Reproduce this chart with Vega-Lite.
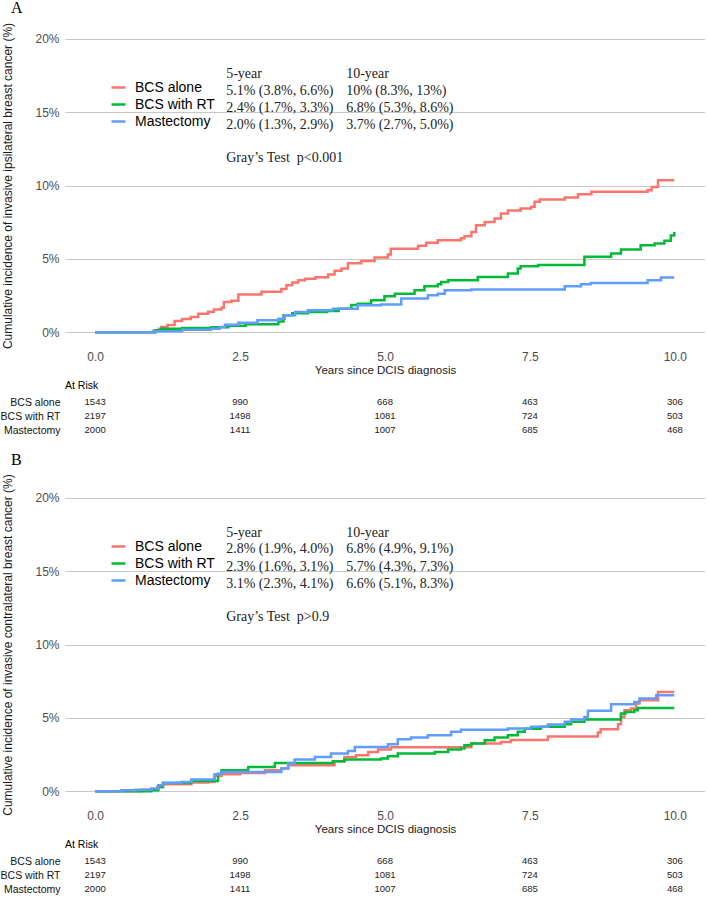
{
  "$schema": "https://vega.github.io/schema/vega-lite/v6.json",
  "background": "white",
  "padding": {"left": 0, "top": 0, "right": 0, "bottom": 0},
  "config": {
    "view": {"stroke": null},
    "font": "Liberation Sans",
    "title": {"color": "black", "fontWeight": "normal"},
    "axis": {"labelFont": "Liberation Sans", "titleFont": "Liberation Sans", "titleFontWeight": "normal"}
  },
  "resolve": {"scale": {"color": "independent"}, "legend": {"color": "independent"}},
  "datasets": {
    "curves": [
      {"panel": "A", "group": "BCS alone", "t": 0, "v": 0},
      {"panel": "A", "group": "BCS alone", "t": 1.0, "v": 0.1},
      {"panel": "A", "group": "BCS alone", "t": 1.1, "v": 0.25},
      {"panel": "A", "group": "BCS alone", "t": 1.14, "v": 0.36},
      {"panel": "A", "group": "BCS alone", "t": 1.25, "v": 0.5},
      {"panel": "A", "group": "BCS alone", "t": 1.37, "v": 0.77},
      {"panel": "A", "group": "BCS alone", "t": 1.5, "v": 0.9},
      {"panel": "A", "group": "BCS alone", "t": 1.65, "v": 1.05},
      {"panel": "A", "group": "BCS alone", "t": 1.78, "v": 1.27},
      {"panel": "A", "group": "BCS alone", "t": 1.95, "v": 1.4},
      {"panel": "A", "group": "BCS alone", "t": 2.05, "v": 1.55},
      {"panel": "A", "group": "BCS alone", "t": 2.18, "v": 1.68},
      {"panel": "A", "group": "BCS alone", "t": 2.22, "v": 2.07},
      {"panel": "A", "group": "BCS alone", "t": 2.35, "v": 2.15},
      {"panel": "A", "group": "BCS alone", "t": 2.47, "v": 2.57},
      {"panel": "A", "group": "BCS alone", "t": 2.87, "v": 2.77},
      {"panel": "A", "group": "BCS alone", "t": 3.21, "v": 2.95},
      {"panel": "A", "group": "BCS alone", "t": 3.3, "v": 3.2},
      {"panel": "A", "group": "BCS alone", "t": 3.4, "v": 3.4},
      {"panel": "A", "group": "BCS alone", "t": 3.5, "v": 3.55},
      {"panel": "A", "group": "BCS alone", "t": 3.62, "v": 3.65},
      {"panel": "A", "group": "BCS alone", "t": 3.8, "v": 3.75},
      {"panel": "A", "group": "BCS alone", "t": 4.02, "v": 3.93},
      {"panel": "A", "group": "BCS alone", "t": 4.13, "v": 4.2},
      {"panel": "A", "group": "BCS alone", "t": 4.25, "v": 4.34},
      {"panel": "A", "group": "BCS alone", "t": 4.36, "v": 4.7},
      {"panel": "A", "group": "BCS alone", "t": 4.59, "v": 4.85},
      {"panel": "A", "group": "BCS alone", "t": 4.82, "v": 5.1},
      {"panel": "A", "group": "BCS alone", "t": 5.05, "v": 5.3},
      {"panel": "A", "group": "BCS alone", "t": 5.1, "v": 5.7},
      {"panel": "A", "group": "BCS alone", "t": 5.57, "v": 5.9},
      {"panel": "A", "group": "BCS alone", "t": 5.71, "v": 6.1},
      {"panel": "A", "group": "BCS alone", "t": 5.91, "v": 6.27},
      {"panel": "A", "group": "BCS alone", "t": 6.31, "v": 6.4},
      {"panel": "A", "group": "BCS alone", "t": 6.37, "v": 6.55},
      {"panel": "A", "group": "BCS alone", "t": 6.49, "v": 6.84},
      {"panel": "A", "group": "BCS alone", "t": 6.57, "v": 7.3},
      {"panel": "A", "group": "BCS alone", "t": 6.72, "v": 7.52},
      {"panel": "A", "group": "BCS alone", "t": 6.89, "v": 7.75},
      {"panel": "A", "group": "BCS alone", "t": 7.0, "v": 8.1},
      {"panel": "A", "group": "BCS alone", "t": 7.12, "v": 8.3},
      {"panel": "A", "group": "BCS alone", "t": 7.34, "v": 8.43},
      {"panel": "A", "group": "BCS alone", "t": 7.52, "v": 8.55},
      {"panel": "A", "group": "BCS alone", "t": 7.58, "v": 8.9},
      {"panel": "A", "group": "BCS alone", "t": 7.67, "v": 9.05},
      {"panel": "A", "group": "BCS alone", "t": 8.1, "v": 9.18},
      {"panel": "A", "group": "BCS alone", "t": 8.33, "v": 9.4},
      {"panel": "A", "group": "BCS alone", "t": 8.56, "v": 9.57},
      {"panel": "A", "group": "BCS alone", "t": 9.53, "v": 9.68},
      {"panel": "A", "group": "BCS alone", "t": 9.6, "v": 9.9},
      {"panel": "A", "group": "BCS alone", "t": 9.71, "v": 10.36},
      {"panel": "A", "group": "BCS alone", "t": 9.99, "v": 10.36},

      {"panel": "A", "group": "BCS with RT", "t": 0, "v": 0},
      {"panel": "A", "group": "BCS with RT", "t": 1.04, "v": 0.14},
      {"panel": "A", "group": "BCS with RT", "t": 1.14, "v": 0.25},
      {"panel": "A", "group": "BCS with RT", "t": 1.5, "v": 0.3},
      {"panel": "A", "group": "BCS with RT", "t": 2.0, "v": 0.35},
      {"panel": "A", "group": "BCS with RT", "t": 2.3, "v": 0.45},
      {"panel": "A", "group": "BCS with RT", "t": 2.6, "v": 0.55},
      {"panel": "A", "group": "BCS with RT", "t": 3.16, "v": 0.73},
      {"panel": "A", "group": "BCS with RT", "t": 3.25, "v": 1.16},
      {"panel": "A", "group": "BCS with RT", "t": 3.4, "v": 1.3},
      {"panel": "A", "group": "BCS with RT", "t": 3.67, "v": 1.39},
      {"panel": "A", "group": "BCS with RT", "t": 4.0, "v": 1.45},
      {"panel": "A", "group": "BCS with RT", "t": 4.2, "v": 1.6},
      {"panel": "A", "group": "BCS with RT", "t": 4.42, "v": 1.86},
      {"panel": "A", "group": "BCS with RT", "t": 4.53, "v": 1.95},
      {"panel": "A", "group": "BCS with RT", "t": 4.76, "v": 2.18},
      {"panel": "A", "group": "BCS with RT", "t": 4.99, "v": 2.45},
      {"panel": "A", "group": "BCS with RT", "t": 5.17, "v": 2.63},
      {"panel": "A", "group": "BCS with RT", "t": 5.51, "v": 2.86},
      {"panel": "A", "group": "BCS with RT", "t": 5.68, "v": 3.14},
      {"panel": "A", "group": "BCS with RT", "t": 5.91, "v": 3.27},
      {"panel": "A", "group": "BCS with RT", "t": 5.97, "v": 3.43},
      {"panel": "A", "group": "BCS with RT", "t": 6.09, "v": 3.55},
      {"panel": "A", "group": "BCS with RT", "t": 6.6, "v": 3.77},
      {"panel": "A", "group": "BCS with RT", "t": 7.12, "v": 4.0},
      {"panel": "A", "group": "BCS with RT", "t": 7.29, "v": 4.34},
      {"panel": "A", "group": "BCS with RT", "t": 7.34, "v": 4.5},
      {"panel": "A", "group": "BCS with RT", "t": 7.64, "v": 4.59},
      {"panel": "A", "group": "BCS with RT", "t": 8.44, "v": 5.14},
      {"panel": "A", "group": "BCS with RT", "t": 8.9, "v": 5.37},
      {"panel": "A", "group": "BCS with RT", "t": 9.07, "v": 5.64},
      {"panel": "A", "group": "BCS with RT", "t": 9.41, "v": 5.93},
      {"panel": "A", "group": "BCS with RT", "t": 9.65, "v": 6.05},
      {"panel": "A", "group": "BCS with RT", "t": 9.82, "v": 6.23},
      {"panel": "A", "group": "BCS with RT", "t": 9.93, "v": 6.6},
      {"panel": "A", "group": "BCS with RT", "t": 9.99, "v": 6.84},

      {"panel": "A", "group": "Mastectomy", "t": 0, "v": 0},
      {"panel": "A", "group": "Mastectomy", "t": 1.04, "v": 0.07},
      {"panel": "A", "group": "Mastectomy", "t": 1.5, "v": 0.18},
      {"panel": "A", "group": "Mastectomy", "t": 2.0, "v": 0.25},
      {"panel": "A", "group": "Mastectomy", "t": 2.15, "v": 0.36},
      {"panel": "A", "group": "Mastectomy", "t": 2.24, "v": 0.52},
      {"panel": "A", "group": "Mastectomy", "t": 2.47, "v": 0.66},
      {"panel": "A", "group": "Mastectomy", "t": 2.8, "v": 0.82},
      {"panel": "A", "group": "Mastectomy", "t": 3.16, "v": 0.93},
      {"panel": "A", "group": "Mastectomy", "t": 3.27, "v": 1.16},
      {"panel": "A", "group": "Mastectomy", "t": 3.45, "v": 1.39},
      {"panel": "A", "group": "Mastectomy", "t": 3.67, "v": 1.5},
      {"panel": "A", "group": "Mastectomy", "t": 4.1, "v": 1.6},
      {"panel": "A", "group": "Mastectomy", "t": 4.53, "v": 1.84},
      {"panel": "A", "group": "Mastectomy", "t": 4.93, "v": 1.9},
      {"panel": "A", "group": "Mastectomy", "t": 5.28, "v": 2.3},
      {"panel": "A", "group": "Mastectomy", "t": 5.74, "v": 2.52},
      {"panel": "A", "group": "Mastectomy", "t": 5.91, "v": 2.63},
      {"panel": "A", "group": "Mastectomy", "t": 6.03, "v": 2.86},
      {"panel": "A", "group": "Mastectomy", "t": 6.49, "v": 2.91},
      {"panel": "A", "group": "Mastectomy", "t": 8.1, "v": 3.14},
      {"panel": "A", "group": "Mastectomy", "t": 8.38, "v": 3.27},
      {"panel": "A", "group": "Mastectomy", "t": 8.55, "v": 3.36},
      {"panel": "A", "group": "Mastectomy", "t": 9.53, "v": 3.55},
      {"panel": "A", "group": "Mastectomy", "t": 9.76, "v": 3.73},
      {"panel": "A", "group": "Mastectomy", "t": 9.99, "v": 3.73},

      {"panel": "B", "group": "BCS alone", "t": 0, "v": 0},
      {"panel": "B", "group": "BCS alone", "t": 0.8, "v": 0.1},
      {"panel": "B", "group": "BCS alone", "t": 1.07, "v": 0.3},
      {"panel": "B", "group": "BCS alone", "t": 1.17, "v": 0.48},
      {"panel": "B", "group": "BCS alone", "t": 1.66, "v": 0.6},
      {"panel": "B", "group": "BCS alone", "t": 1.95, "v": 0.64},
      {"panel": "B", "group": "BCS alone", "t": 2.06, "v": 1.05},
      {"panel": "B", "group": "BCS alone", "t": 2.18, "v": 1.16},
      {"panel": "B", "group": "BCS alone", "t": 2.5, "v": 1.25},
      {"panel": "B", "group": "BCS alone", "t": 2.93, "v": 1.43},
      {"panel": "B", "group": "BCS alone", "t": 3.21, "v": 1.55},
      {"panel": "B", "group": "BCS alone", "t": 3.33, "v": 1.77},
      {"panel": "B", "group": "BCS alone", "t": 4.13, "v": 2.05},
      {"panel": "B", "group": "BCS alone", "t": 4.3, "v": 2.34},
      {"panel": "B", "group": "BCS alone", "t": 4.5, "v": 2.45},
      {"panel": "B", "group": "BCS alone", "t": 4.71, "v": 2.68},
      {"panel": "B", "group": "BCS alone", "t": 4.88, "v": 2.85},
      {"panel": "B", "group": "BCS alone", "t": 5.1, "v": 3.0},
      {"panel": "B", "group": "BCS alone", "t": 6.49, "v": 3.25},
      {"panel": "B", "group": "BCS alone", "t": 7.0, "v": 3.36},
      {"panel": "B", "group": "BCS alone", "t": 7.17, "v": 3.5},
      {"panel": "B", "group": "BCS alone", "t": 7.81, "v": 3.73},
      {"panel": "B", "group": "BCS alone", "t": 8.67, "v": 4.0},
      {"panel": "B", "group": "BCS alone", "t": 8.72, "v": 4.23},
      {"panel": "B", "group": "BCS alone", "t": 9.02, "v": 4.57},
      {"panel": "B", "group": "BCS alone", "t": 9.07, "v": 5.07},
      {"panel": "B", "group": "BCS alone", "t": 9.13, "v": 5.53},
      {"panel": "B", "group": "BCS alone", "t": 9.24, "v": 5.64},
      {"panel": "B", "group": "BCS alone", "t": 9.33, "v": 5.98},
      {"panel": "B", "group": "BCS alone", "t": 9.39, "v": 6.2},
      {"panel": "B", "group": "BCS alone", "t": 9.71, "v": 6.77},
      {"panel": "B", "group": "BCS alone", "t": 9.99, "v": 6.77},

      {"panel": "B", "group": "BCS with RT", "t": 0, "v": 0},
      {"panel": "B", "group": "BCS with RT", "t": 0.97, "v": 0.07},
      {"panel": "B", "group": "BCS with RT", "t": 1.09, "v": 0.3},
      {"panel": "B", "group": "BCS with RT", "t": 1.17, "v": 0.57},
      {"panel": "B", "group": "BCS with RT", "t": 1.66, "v": 0.7},
      {"panel": "B", "group": "BCS with RT", "t": 2.12, "v": 1.2},
      {"panel": "B", "group": "BCS with RT", "t": 2.18, "v": 1.43},
      {"panel": "B", "group": "BCS with RT", "t": 2.64, "v": 1.66},
      {"panel": "B", "group": "BCS with RT", "t": 3.1, "v": 1.93},
      {"panel": "B", "group": "BCS with RT", "t": 4.1, "v": 2.05},
      {"panel": "B", "group": "BCS with RT", "t": 4.3, "v": 2.16},
      {"panel": "B", "group": "BCS with RT", "t": 4.93, "v": 2.23},
      {"panel": "B", "group": "BCS with RT", "t": 5.05, "v": 2.39},
      {"panel": "B", "group": "BCS with RT", "t": 5.22, "v": 2.57},
      {"panel": "B", "group": "BCS with RT", "t": 5.86, "v": 2.68},
      {"panel": "B", "group": "BCS with RT", "t": 6.09, "v": 2.84},
      {"panel": "B", "group": "BCS with RT", "t": 6.31, "v": 2.91},
      {"panel": "B", "group": "BCS with RT", "t": 6.37, "v": 3.14},
      {"panel": "B", "group": "BCS with RT", "t": 6.49, "v": 3.25},
      {"panel": "B", "group": "BCS with RT", "t": 6.72, "v": 3.48},
      {"panel": "B", "group": "BCS with RT", "t": 6.89, "v": 3.66},
      {"panel": "B", "group": "BCS with RT", "t": 7.12, "v": 3.82},
      {"panel": "B", "group": "BCS with RT", "t": 7.29, "v": 4.05},
      {"panel": "B", "group": "BCS with RT", "t": 7.41, "v": 4.27},
      {"panel": "B", "group": "BCS with RT", "t": 7.69, "v": 4.39},
      {"panel": "B", "group": "BCS with RT", "t": 8.1, "v": 4.57},
      {"panel": "B", "group": "BCS with RT", "t": 8.21, "v": 4.73},
      {"panel": "B", "group": "BCS with RT", "t": 8.44, "v": 4.89},
      {"panel": "B", "group": "BCS with RT", "t": 9.07, "v": 5.3},
      {"panel": "B", "group": "BCS with RT", "t": 9.15, "v": 5.41},
      {"panel": "B", "group": "BCS with RT", "t": 9.3, "v": 5.53},
      {"panel": "B", "group": "BCS with RT", "t": 9.36, "v": 5.68},
      {"panel": "B", "group": "BCS with RT", "t": 9.99, "v": 5.68},

      {"panel": "B", "group": "Mastectomy", "t": 0, "v": 0},
      {"panel": "B", "group": "Mastectomy", "t": 0.45, "v": 0.07},
      {"panel": "B", "group": "Mastectomy", "t": 0.7, "v": 0.1},
      {"panel": "B", "group": "Mastectomy", "t": 0.97, "v": 0.2},
      {"panel": "B", "group": "Mastectomy", "t": 1.09, "v": 0.41},
      {"panel": "B", "group": "Mastectomy", "t": 1.17, "v": 0.59},
      {"panel": "B", "group": "Mastectomy", "t": 1.49, "v": 0.64},
      {"panel": "B", "group": "Mastectomy", "t": 1.66, "v": 0.8},
      {"panel": "B", "group": "Mastectomy", "t": 2.06, "v": 1.16},
      {"panel": "B", "group": "Mastectomy", "t": 2.18, "v": 1.32},
      {"panel": "B", "group": "Mastectomy", "t": 3.21, "v": 1.55},
      {"panel": "B", "group": "Mastectomy", "t": 3.33, "v": 1.89},
      {"panel": "B", "group": "Mastectomy", "t": 3.44, "v": 2.16},
      {"panel": "B", "group": "Mastectomy", "t": 3.79, "v": 2.34},
      {"panel": "B", "group": "Mastectomy", "t": 4.07, "v": 2.57},
      {"panel": "B", "group": "Mastectomy", "t": 4.36, "v": 2.75},
      {"panel": "B", "group": "Mastectomy", "t": 4.48, "v": 3.02},
      {"panel": "B", "group": "Mastectomy", "t": 5.05, "v": 3.2},
      {"panel": "B", "group": "Mastectomy", "t": 5.22, "v": 3.55},
      {"panel": "B", "group": "Mastectomy", "t": 5.45, "v": 3.66},
      {"panel": "B", "group": "Mastectomy", "t": 5.74, "v": 3.82},
      {"panel": "B", "group": "Mastectomy", "t": 6.14, "v": 4.05},
      {"panel": "B", "group": "Mastectomy", "t": 6.31, "v": 4.2},
      {"panel": "B", "group": "Mastectomy", "t": 7.12, "v": 4.28},
      {"panel": "B", "group": "Mastectomy", "t": 7.52, "v": 4.39},
      {"panel": "B", "group": "Mastectomy", "t": 7.81, "v": 4.55},
      {"panel": "B", "group": "Mastectomy", "t": 8.1, "v": 4.73},
      {"panel": "B", "group": "Mastectomy", "t": 8.21, "v": 4.9},
      {"panel": "B", "group": "Mastectomy", "t": 8.44, "v": 5.07},
      {"panel": "B", "group": "Mastectomy", "t": 8.5, "v": 5.48},
      {"panel": "B", "group": "Mastectomy", "t": 8.9, "v": 5.93},
      {"panel": "B", "group": "Mastectomy", "t": 9.3, "v": 6.09},
      {"panel": "B", "group": "Mastectomy", "t": 9.39, "v": 6.32},
      {"panel": "B", "group": "Mastectomy", "t": 9.68, "v": 6.55},
      {"panel": "B", "group": "Mastectomy", "t": 9.99, "v": 6.55}
    ],
    "notes": [
      {"panel": "A", "t": 2.26, "v": 17.57, "label": "5-year"},
      {"panel": "A", "t": 4.33, "v": 17.57, "label": "10-year"},
      {"panel": "A", "t": 2.26, "v": 16.43, "label": "5.1% (3.8%, 6.6%)"},
      {"panel": "A", "t": 4.33, "v": 16.43, "label": "10% (8.3%, 13%)"},
      {"panel": "A", "t": 2.26, "v": 15.27, "label": "2.4% (1.7%, 3.3%)"},
      {"panel": "A", "t": 4.33, "v": 15.27, "label": "6.8% (5.3%, 8.6%)"},
      {"panel": "A", "t": 2.26, "v": 14.12, "label": "2.0% (1.3%, 2.9%)"},
      {"panel": "A", "t": 4.33, "v": 14.12, "label": "3.7% (2.7%, 5.0%)"},
      {"panel": "A", "t": 2.26, "v": 11.84, "label": "Gray’s Test\u00a0 p<0.001"},
      {"panel": "B", "t": 2.26, "v": 17.6, "label": "5-year"},
      {"panel": "B", "t": 4.33, "v": 17.6, "label": "10-year"},
      {"panel": "B", "t": 2.26, "v": 16.5, "label": "2.8% (1.9%, 4.0%)"},
      {"panel": "B", "t": 4.33, "v": 16.5, "label": "6.8% (4.9%, 9.1%)"},
      {"panel": "B", "t": 2.26, "v": 15.3, "label": "2.3% (1.6%, 3.1%)"},
      {"panel": "B", "t": 4.33, "v": 15.3, "label": "5.7% (4.3%, 7.3%)"},
      {"panel": "B", "t": 2.26, "v": 14.15, "label": "3.1% (2.3%, 4.1%)"},
      {"panel": "B", "t": 4.33, "v": 14.15, "label": "6.6% (5.1%, 8.3%)"},
      {"panel": "B", "t": 2.26, "v": 11.9, "label": "Gray’s Test\u00a0 p>0.9"}
    ],
    "risk": [
      {"panel": "A", "group": "BCS alone", "t": 0, "n": 1543},
      {"panel": "A", "group": "BCS alone", "t": 2.5, "n": 990},
      {"panel": "A", "group": "BCS alone", "t": 5, "n": 668},
      {"panel": "A", "group": "BCS alone", "t": 7.5, "n": 463},
      {"panel": "A", "group": "BCS alone", "t": 10, "n": 306},
      {"panel": "A", "group": "BCS with RT", "t": 0, "n": 2197},
      {"panel": "A", "group": "BCS with RT", "t": 2.5, "n": 1498},
      {"panel": "A", "group": "BCS with RT", "t": 5, "n": 1081},
      {"panel": "A", "group": "BCS with RT", "t": 7.5, "n": 724},
      {"panel": "A", "group": "BCS with RT", "t": 10, "n": 503},
      {"panel": "A", "group": "Mastectomy", "t": 0, "n": 2000},
      {"panel": "A", "group": "Mastectomy", "t": 2.5, "n": 1411},
      {"panel": "A", "group": "Mastectomy", "t": 5, "n": 1007},
      {"panel": "A", "group": "Mastectomy", "t": 7.5, "n": 685},
      {"panel": "A", "group": "Mastectomy", "t": 10, "n": 468},
      {"panel": "B", "group": "BCS alone", "t": 0, "n": 1543},
      {"panel": "B", "group": "BCS alone", "t": 2.5, "n": 990},
      {"panel": "B", "group": "BCS alone", "t": 5, "n": 668},
      {"panel": "B", "group": "BCS alone", "t": 7.5, "n": 463},
      {"panel": "B", "group": "BCS alone", "t": 10, "n": 306},
      {"panel": "B", "group": "BCS with RT", "t": 0, "n": 2197},
      {"panel": "B", "group": "BCS with RT", "t": 2.5, "n": 1498},
      {"panel": "B", "group": "BCS with RT", "t": 5, "n": 1081},
      {"panel": "B", "group": "BCS with RT", "t": 7.5, "n": 724},
      {"panel": "B", "group": "BCS with RT", "t": 10, "n": 503},
      {"panel": "B", "group": "Mastectomy", "t": 0, "n": 2000},
      {"panel": "B", "group": "Mastectomy", "t": 2.5, "n": 1411},
      {"panel": "B", "group": "Mastectomy", "t": 5, "n": 1007},
      {"panel": "B", "group": "Mastectomy", "t": 7.5, "n": 685},
      {"panel": "B", "group": "Mastectomy", "t": 10, "n": 468}
    ]
  },
  "spacing": 14,
  "vconcat": [
    {
      "spacing": 4,
      "resolve": {"scale": {"color": "independent"}, "legend": {"color": "independent"}},
      "vconcat": [
        {
          "width": 640,
          "height": 323,
          "title": {"text": "A", "anchor": "start", "frame": "bounds", "font": "Liberation Serif", "fontSize": 16, "dx": 9, "offset": 6},
          "layer": [
            {
              "data": {"name": "curves"},
              "transform": [{"filter": "datum.panel == 'A'"}],
              "mark": {"type": "line", "interpolate": "step-after", "strokeWidth": 2.5},
              "encoding": {
                "x": {"field": "t", "type": "quantitative",
                      "scale": {"domain": [-0.52, 10.52], "nice": false, "zero": false},
                      "axis": {"values": [0, 2.5, 5, 7.5, 10], "format": ".1f", "title": "Years since DCIS diagnosis",
                               "grid": false, "ticks": false, "domain": false, "labelPadding": 4, "titlePadding": 2,
                               "labelFontSize": 12, "titleFontSize": 11.5, "labelColor": "#4d4d4d", "titleColor": "#1a1a1a"}},
                "y": {"field": "v", "type": "quantitative",
                      "scale": {"domain": [-1, 21], "nice": false, "zero": false},
                      "axis": {"values": [0, 5, 10, 15, 20], "labelExpr": "datum.value + '%'",
                               "title": "Cumulative incidence of invasive ipsilateral breast cancer (%)",
                               "grid": true, "gridColor": "#c8c8c8", "ticks": false, "domain": false,
                               "labelPadding": 6, "titlePadding": 20, "labelFontSize": 12, "titleFontSize": 12,
                               "labelColor": "#4d4d4d", "titleColor": "#1a1a1a"}},
                "color": {"field": "group", "type": "nominal",
                          "scale": {"domain": ["BCS alone", "BCS with RT", "Mastectomy"], "range": ["#F8766D", "#00BA38", "#619CFF"]},
                          "legend": {"orient": "none", "legendX": 45, "legendY": 55, "title": null, "padding": 0,
                                     "symbolType": "stroke", "symbolSize": 196, "symbolStrokeWidth": 2.5,
                                     "labelFontSize": 14, "labelFont": "Liberation Sans", "labelColor": "black",
                                     "labelOffset": 8, "rowPadding": 1}}
              }
            },
            {
              "data": {"name": "notes"},
              "transform": [{"filter": "datum.panel == 'A'"}],
              "mark": {"type": "text", "font": "Liberation Serif", "fontSize": 14, "align": "left", "baseline": "middle", "color": "#222222"},
              "encoding": {
                "x": {"field": "t", "type": "quantitative"},
                "y": {"field": "v", "type": "quantitative"},
                "text": {"field": "label"}
              }
            }
          ]
        },
        {
          "width": 640,
          "height": 42,
          "title": {"text": "At Risk", "anchor": "start", "frame": "group", "fontSize": 10.5, "offset": 4},
          "data": {"name": "risk"},
          "transform": [{"filter": "datum.panel == 'A'"}],
          "mark": {"type": "text", "fontSize": 9.5, "color": "#222222"},
          "encoding": {
            "x": {"field": "t", "type": "quantitative", "scale": {"domain": [-0.52, 10.52], "nice": false, "zero": false}, "axis": null},
            "y": {"field": "group", "type": "nominal", "sort": ["BCS alone", "BCS with RT", "Mastectomy"],
                  "axis": {"title": null, "ticks": false, "domain": false, "labelPadding": 5, "labelFontSize": 10.5, "labelColor": "#111111"}},
            "text": {"field": "n", "type": "nominal"}
          }
        }
      ]
    },
    {
      "spacing": 4,
      "resolve": {"scale": {"color": "independent"}, "legend": {"color": "independent"}},
      "vconcat": [
        {
          "width": 640,
          "height": 323,
          "title": {"text": "B", "anchor": "start", "frame": "bounds", "font": "Liberation Serif", "fontSize": 16, "dx": 9, "offset": 6},
          "layer": [
            {
              "data": {"name": "curves"},
              "transform": [{"filter": "datum.panel == 'B'"}],
              "mark": {"type": "line", "interpolate": "step-after", "strokeWidth": 2.5},
              "encoding": {
                "x": {"field": "t", "type": "quantitative",
                      "scale": {"domain": [-0.52, 10.52], "nice": false, "zero": false},
                      "axis": {"values": [0, 2.5, 5, 7.5, 10], "format": ".1f", "title": "Years since DCIS diagnosis",
                               "grid": false, "ticks": false, "domain": false, "labelPadding": 4, "titlePadding": 2,
                               "labelFontSize": 12, "titleFontSize": 11.5, "labelColor": "#4d4d4d", "titleColor": "#1a1a1a"}},
                "y": {"field": "v", "type": "quantitative",
                      "scale": {"domain": [-1, 21], "nice": false, "zero": false},
                      "axis": {"values": [0, 5, 10, 15, 20], "labelExpr": "datum.value + '%'",
                               "title": "Cumulative incidence of invasive contralateral breast cancer (%)",
                               "grid": true, "gridColor": "#c8c8c8", "ticks": false, "domain": false,
                               "labelPadding": 6, "titlePadding": 20, "labelFontSize": 12, "titleFontSize": 12,
                               "labelColor": "#4d4d4d", "titleColor": "#1a1a1a"}},
                "color": {"field": "group", "type": "nominal",
                          "scale": {"domain": ["BCS alone", "BCS with RT", "Mastectomy"], "range": ["#F8766D", "#00BA38", "#619CFF"]},
                          "legend": {"orient": "none", "legendX": 45, "legendY": 55, "title": null, "padding": 0,
                                     "symbolType": "stroke", "symbolSize": 196, "symbolStrokeWidth": 2.5,
                                     "labelFontSize": 14, "labelFont": "Liberation Sans", "labelColor": "black",
                                     "labelOffset": 8, "rowPadding": 1}}
              }
            },
            {
              "data": {"name": "notes"},
              "transform": [{"filter": "datum.panel == 'B'"}],
              "mark": {"type": "text", "font": "Liberation Serif", "fontSize": 14, "align": "left", "baseline": "middle", "color": "#222222"},
              "encoding": {
                "x": {"field": "t", "type": "quantitative"},
                "y": {"field": "v", "type": "quantitative"},
                "text": {"field": "label"}
              }
            }
          ]
        },
        {
          "width": 640,
          "height": 42,
          "title": {"text": "At Risk", "anchor": "start", "frame": "group", "fontSize": 10.5, "offset": 4},
          "data": {"name": "risk"},
          "transform": [{"filter": "datum.panel == 'B'"}],
          "mark": {"type": "text", "fontSize": 9.5, "color": "#222222"},
          "encoding": {
            "x": {"field": "t", "type": "quantitative", "scale": {"domain": [-0.52, 10.52], "nice": false, "zero": false}, "axis": null},
            "y": {"field": "group", "type": "nominal", "sort": ["BCS alone", "BCS with RT", "Mastectomy"],
                  "axis": {"title": null, "ticks": false, "domain": false, "labelPadding": 5, "labelFontSize": 10.5, "labelColor": "#111111"}},
            "text": {"field": "n", "type": "nominal"}
          }
        }
      ]
    }
  ]
}
